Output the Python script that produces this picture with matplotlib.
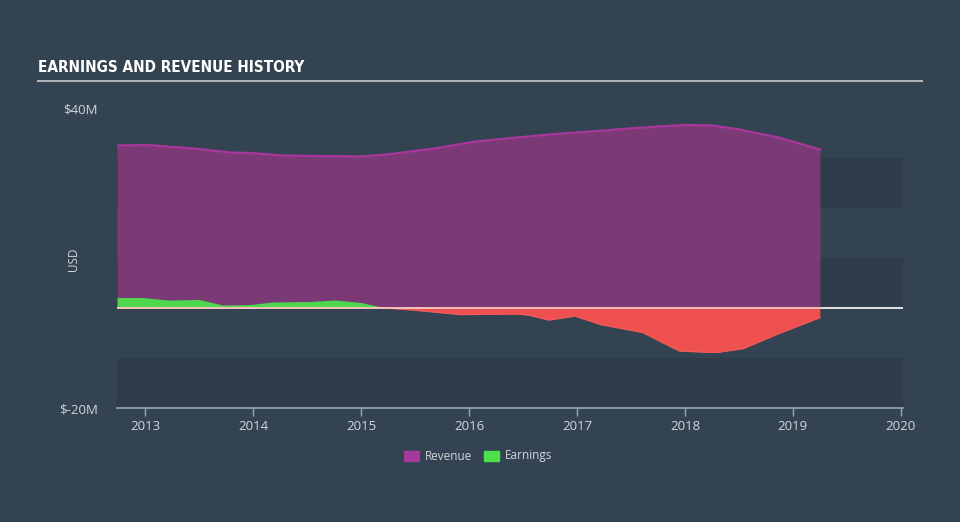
import matplotlib
matplotlib.use("Agg")
import matplotlib.pyplot as plt
import numpy as np

# ---- data (USD millions) ----
rev_years = [2012.74, 2013.02, 2013.45, 2013.79, 2013.98, 2014.27, 2014.61, 2015.0,
             2015.24, 2015.68, 2016.06, 2016.45, 2016.74, 2017.13, 2017.42, 2017.75,
             2018.0, 2018.25, 2018.48, 2018.87, 2019.25]
revenue = [32.5, 32.6, 31.9, 31.1, 31.0, 30.5, 30.4, 30.3,
           30.7, 31.9, 33.3, 34.1, 34.7, 35.3, 35.8, 36.3,
           36.6, 36.5, 35.8, 34.1, 31.7]

earn_years = [2012.74, 2012.97, 2013.21, 2013.5, 2013.72, 2013.98, 2014.18, 2014.52,
              2014.76, 2015.0, 2015.22, 2015.48, 2015.92, 2016.45, 2016.55, 2016.74,
              2016.98, 2017.22, 2017.61, 2017.81, 2017.95, 2018.29, 2018.54, 2018.87,
              2019.25]
earnings = [2.1, 2.1, 1.6, 1.7, 0.6, 0.7, 1.2, 1.3,
            1.6, 1.1, 0.06, -0.4, -1.3, -1.2, -1.4, -2.4,
            -1.6, -3.3, -4.9, -7.1, -8.6, -8.9, -8.1, -5.1,
            -1.9]

x_ticks = [2013, 2014, 2015, 2016, 2017, 2018, 2019, 2020]
y_ticks = [40, -20]
y_tick_labels = ["$40M", "$-20M"]

BG = "#344352"
BAND = "#2f3c4a"
TXT = "#d2d6da"

fig = plt.figure(figsize=(9.6, 5.22), dpi=100, facecolor=BG)
ax = fig.add_axes([117/960, 1-408/522, (903-117)/960, 300/522])
ax.set_facecolor(BG)
ax.set_xlim(2012.74, 2020.02)
ax.set_ylim(-20, 40)

for lo, hi in [(-20, -10), (0, 10), (20, 30)]:
    ax.axhspan(lo, hi, color=BAND, lw=0, zorder=0)

ry = np.array(rev_years); rv = np.array(revenue)
ax.fill_between(ry, 0, rv, color="#7b3a76", lw=0, zorder=2)
ax.plot(ry, rv, color="#a8379b", lw=1.6, zorder=3)

ey = np.array(earn_years); ev = np.array(earnings)
ax.fill_between(ey, 0, ev, where=ev >= 0, interpolate=True, color="#4fd64f", lw=0, zorder=4)
ax.fill_between(ey, 0, ev, where=ev <= 0, interpolate=True, color="#ee5050", lw=0, zorder=4)
ax.plot(ey, np.minimum(ev, 0), color="#f05a5a", lw=1.0, zorder=4)

ax.axhline(0, color="white", lw=1.2, zorder=5)
ax.plot([rev_years[0], rev_years[-1]], [0, 0], color="#f4b8b0", lw=1.2, zorder=6)

for s in ["top", "right", "left"]:
    ax.spines[s].set_visible(False)
ax.spines["bottom"].set_color("#9aa6b2")
ax.spines["bottom"].set_linewidth(1.2)

ax.set_xticks(x_ticks)
ax.set_xticklabels([str(t) for t in x_ticks])
ax.tick_params(axis="x", colors="#9aa6b2", length=6, width=1, labelcolor=TXT,
               labelsize=9.5, pad=3)
ax.set_yticks(y_ticks)
ax.set_yticklabels(y_tick_labels)
ax.tick_params(axis="y", length=0, labelcolor=TXT, labelsize=9.5, pad=14)
for lab in ax.get_xticklabels() + ax.get_yticklabels():
    lab.set_family("Open Sans")

fig.text(73/960, 1-259/522, "USD", rotation=90, color=TXT, fontsize=8.5,
         ha="center", va="center", family="Open Sans")

fig.text(38/960, 1-68/522, "EARNINGS AND REVENUE HISTORY", color="white",
         fontsize=11, fontweight="bold", fontstretch="condensed",
         family="DejaVu Sans", ha="left", va="center")
fig.add_artist(plt.Line2D([38/960, 922/960], [1-81/522, 1-81/522],
                          color="#b0b4b8", lw=1.5, transform=fig.transFigure))

# legend
def swatch(x0, color, label):
    fig.patches.append(plt.Rectangle((x0/960, 1-461/522), 15/960, 10/522,
                                     color=color, transform=fig.transFigure))
    fig.text((x0+21)/960, 1-456/522, label, color=TXT, fontsize=8.5,
             va="center", ha="left", family="Open Sans")

swatch(404, "#a8399c", "Revenue")
swatch(484, "#4de04d", "Earnings")

fig.savefig("out.png", dpi=100, facecolor=BG)
